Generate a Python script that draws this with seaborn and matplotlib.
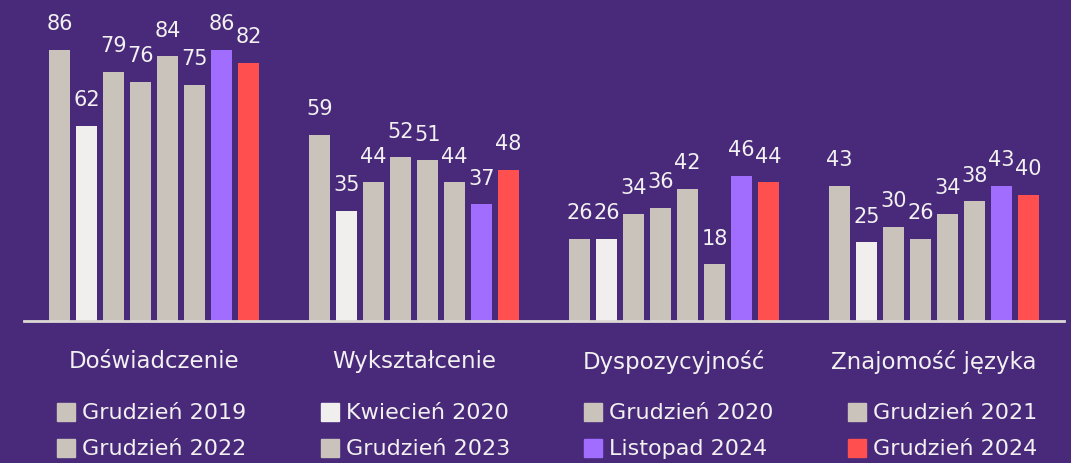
import pandas as pd
import matplotlib.pyplot as plt
import matplotlib.patches as mpatches
import seaborn as sns

# dane
categories = ['Doświadczenie', 'Wykształcenie', 'Dyspozycyjność', 'Znajomość języka']
periods = ['Grudzień 2019', 'Kwiecień 2020', 'Grudzień 2020', 'Grudzień 2021',
           'Grudzień 2022', 'Grudzień 2023', 'Listopad 2024', 'Grudzień 2024']
values = {
    'Doświadczenie': [86, 62, 79, 76, 84, 75, 86, 82],
    'Wykształcenie': [59, 35, 44, 52, 51, 44, 37, 48],
    'Dyspozycyjność': [26, 26, 34, 36, 42, 18, 46, 44],
    'Znajomość języka': [43, 25, 30, 26, 34, 38, 43, 40],
}
colors = ['#cac3bc', '#f1efee', '#cac3bc', '#cac3bc',
          '#cac3bc', '#cac3bc', '#a06dff', '#ff4f4f']

bg = '#48297a'
txt = '#f2f0f0'

rows = []
for cat in categories:
    for p, v in zip(periods, values[cat]):
        rows.append({'kategoria': cat, 'okres': p, 'wartosc': v})
df = pd.DataFrame(rows)

sns.set_style('white')
plt.rcParams['font.family'] = ['DejaVu Sans']

fig = plt.figure(figsize=(10.71, 4.64), dpi=100, facecolor=bg)
ax = fig.add_axes([24 / 1071, 142 / 464, 1040 / 1071, 315 / 464])
ax.set_facecolor(bg)

sns.barplot(data=df, x='kategoria', y='wartosc', hue='okres', order=categories,
            hue_order=periods, palette=dict(zip(periods, colors)), width=0.83,
            gap=0.22, linewidth=0, saturation=1, legend=False, ax=ax)

for c in ax.containers:
    ax.bar_label(c, padding=12, color=txt, fontsize=15)

ax.set_xlim(-0.5, 3.5)
ax.set_ylim(0, 100)
ax.set_xlabel('')
ax.set_ylabel('')
ax.set_yticks([])
for s in ['top', 'right', 'left']:
    ax.spines[s].set_visible(False)
ax.spines['bottom'].set_color('#dcd8d4')
ax.spines['bottom'].set_linewidth(2)
ax.tick_params(axis='x', length=0, pad=20, labelsize=16.5, labelcolor=txt)

# legenda
for i, (p, col) in enumerate(zip(periods, colors)):
    r, k = divmod(i, 4)
    x0 = (57 + 263.7 * k) / 1071
    y0 = 1 - (413 + 36 * r) / 464
    fig.patches.append(mpatches.Rectangle((x0, y0 - 9 / 464), 18 / 1071, 18 / 464,
                                          transform=fig.transFigure, color=col))
    fig.text(x0 + 25 / 1071, y0, p, color=txt, fontsize=16, va='center', ha='left')

fig.savefig('out.png', dpi=100, facecolor=bg)
